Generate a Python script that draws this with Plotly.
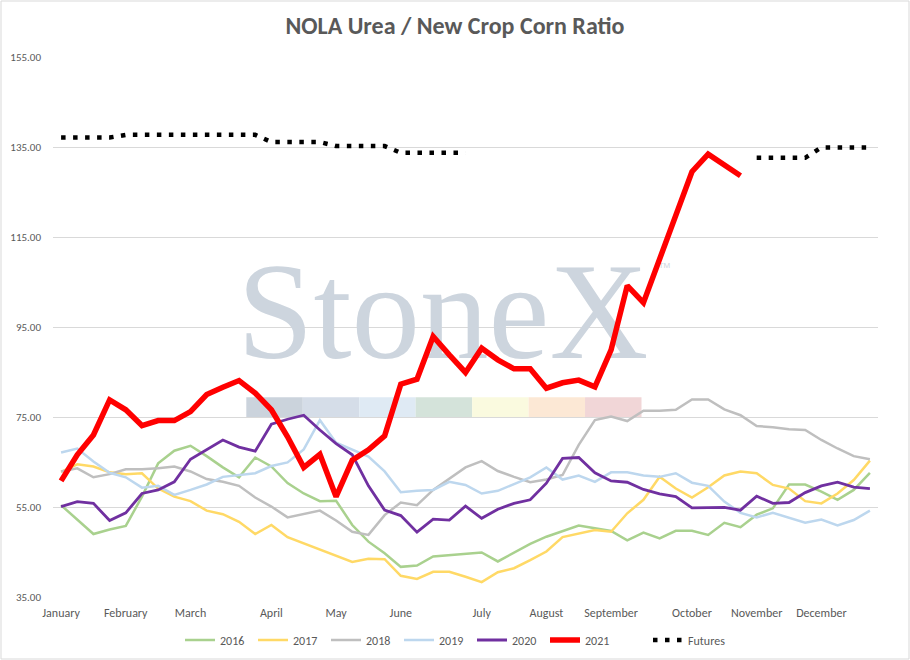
import plotly.graph_objects as go

# ---------------- data ----------------
weeks = list(range(51))
month_ticks = [0, 4, 8, 13, 17, 21, 26, 30, 34, 39, 43, 47]
month_labels = ["January", "February", "March", "April", "May", "June",
                "July", "August", "September", "October", "November", "December"]
y_ticks = [35, 55, 75, 95, 115, 135, 155]

y2016 = [55.4, 52.3, 49.0, 50.0, 50.8, 57.3, 64.7, 67.5, 68.6, 66.3, 63.8, 61.6, 66.0, 64.0, 60.3,
         58.0, 56.3, 56.4, 51.0, 47.3, 44.7, 41.7, 42.0, 44.0, 44.3, 44.5, 44.9, 42.9, 44.9, 46.8,
         48.4, 49.7, 50.9, 50.3, 49.7, 47.6, 49.3, 48.0, 49.7, 49.7, 48.8, 51.5, 50.5, 53.3, 54.7,
         60.0, 60.0, 58.4, 56.6, 58.8, 62.6]
y2017 = [62.8, 64.5, 64.0, 62.7, 62.3, 62.5, 59.1, 57.3, 56.3, 54.2, 53.4, 51.7, 49.0, 51.0, 48.3,
         46.9, 45.6, 44.2, 42.8, 43.5, 43.4, 39.7, 39.0, 40.6, 40.6, 39.5, 38.3, 40.5, 41.4, 43.2,
         45.1, 48.3, 49.1, 49.9, 49.5, 53.6, 56.6, 61.7, 59.1, 57.1, 59.4, 62.0, 62.9, 62.5, 59.9,
         59.1, 56.3, 55.8, 58.0, 61.0, 65.3]
y2018 = [62.9, 63.6, 61.6, 62.3, 63.4, 63.4, 63.6, 64.0, 62.9, 61.2, 60.6, 59.7, 57.1, 55.1, 52.7,
         53.4, 54.2, 52.0, 49.5, 48.8, 53.2, 56.0, 55.4, 58.8, 61.3, 63.8, 65.2, 63.0, 61.7, 60.5,
         61.1, 62.1, 68.8, 74.3, 75.1, 74.1, 76.4, 76.4, 76.6, 78.9, 78.9, 76.7, 75.4, 73.0, 72.7,
         72.3, 72.1, 69.9, 68.0, 66.3, 65.6]
y2019 = [67.1, 68.0, 65.1, 62.6, 61.6, 59.3, 59.7, 57.7, 58.8, 60.0, 61.7, 62.1, 62.5, 64.1, 64.9,
         67.8, 74.3, 69.3, 67.7, 66.2, 62.9, 58.3, 58.6, 58.8, 60.6, 59.9, 58.0, 58.6, 60.1, 61.6,
         63.8, 61.1, 62.0, 60.6, 62.7, 62.7, 62.0, 61.7, 62.5, 60.4, 59.7, 56.2, 53.7, 52.7, 53.7,
         52.6, 51.5, 52.2, 50.9, 52.1, 54.2]
y2020 = [55.1, 56.2, 55.8, 52.0, 53.7, 58.0, 58.8, 60.6, 65.6, 67.7, 69.9, 68.3, 67.4, 73.4, 74.5,
         75.4, 72.1, 69.1, 66.6, 59.7, 54.3, 53.1, 49.4, 52.3, 52.1, 55.2, 52.5, 54.5, 55.8, 56.6,
         60.3, 65.8, 66.0, 62.6, 60.8, 60.5, 58.9, 57.9, 57.3, 54.8, 54.9, 54.9, 54.3, 57.4, 55.8,
         56.0, 58.2, 59.7, 60.5, 59.4, 59.1]
y2021 = [60.8, 66.6, 71.0, 78.8, 76.6, 73.1, 74.2, 74.2, 76.2, 80.0, 81.6, 83.1, 80.3, 76.6, 70.6,
         63.8, 66.7, 57.3, 65.4, 67.7, 70.8, 82.3, 83.4, 92.9, 88.8, 84.9, 90.3, 87.7, 85.7, 85.7,
         81.4, 82.6, 83.2, 81.7, 89.9, 104.2, 100.4, 110.0, 119.9, 129.5, 133.4, 131.0, 128.6,
         None, None, None, None, None, None, None, None]
futures = [137.1, 137.1, 137.1, 137.1,
           137.7, 137.7, 137.7, 137.7, 137.7, 137.7, 137.7, 137.7, 137.7,
           136.1, 136.1, 136.1, 136.1,
           135.2, 135.2, 135.2, 135.2,
           133.7, 133.7, 133.7, 133.7, 133.7,
           None, None, None, None, None, None, None, None, None, None, None, None, None, None,
           None, None, None,
           132.6, 132.6, 132.6, 132.6,
           134.9, 134.9, 134.9, 134.9]

band_colors = ["#cbd3dc", "#d5dde8", "#dfeaf4", "#d4e3da", "#fafadf", "#fce8d5", "#f1d6d7"]

FONT = "Calibri, Carlito, Lato, sans-serif"
GREY = "#595959"

fig = go.Figure()

# watermark text drawn first, so it sits beneath the data lines
fig.add_trace(go.Scatter(
    x=[23.6], y=[95.8], mode="text", text=["StoneX"],
    textfont=dict(family="Liberation Serif, Times New Roman, serif", size=137, color="#cdd5de"),
    showlegend=False, hoverinfo="skip"))
fig.add_trace(go.Scatter(
    x=[37.3], y=[108.6], mode="text", text=["TM"],
    textfont=dict(family="Liberation Sans, sans-serif", size=8, color="#cdd5de"),
    showlegend=False, hoverinfo="skip"))

series = [
    ("2016", y2016, "#A9D18E", 2.5),
    ("2017", y2017, "#FFD966", 2.5),
    ("2018", y2018, "#BFBFBF", 2.5),
    ("2019", y2019, "#BDD7EE", 2.5),
    ("2020", y2020, "#7030A0", 2.8),
    ("2021", y2021, "#FF0000", 5.5),
]
for name, vals, col, w in series:
    fig.add_trace(go.Scatter(x=weeks, y=vals, mode="lines", name=name,
                             line=dict(color=col, width=w), connectgaps=False))

fig.add_trace(go.Scatter(x=weeks, y=futures, mode="lines", name="Futures",
                         line=dict(color="black", width=4.5, dash="4.5px,7.5px"),
                         connectgaps=False, legend="legend2"))

# coloured band of the watermark
shapes = []
x_start, seg = 11.45, 3.49
for i, c in enumerate(band_colors):
    shapes.append(dict(type="rect", xref="x", yref="y", layer="below",
                       x0=x_start + i * seg, x1=x_start + (i + 1) * seg,
                       y0=75, y1=79.4, fillcolor=c, line=dict(width=0)))
# chart border
shapes.append(dict(type="rect", xref="paper", yref="paper",
                   x0=-52 / 825, x1=856 / 825, y0=-62 / 540, y1=596 / 540,
                   line=dict(color="#d9d9d9", width=1), fillcolor="rgba(0,0,0,0)"))

legend_common = dict(orientation="h", xref="container", yref="container",
                     xanchor="left", y=1 - 640 / 660, yanchor="middle",
                     font=dict(family=FONT, size=12, color=GREY),
                     tracegroupgap=0, bgcolor="rgba(0,0,0,0)")

fig.update_layout(
    width=910, height=660,
    margin=dict(l=53, r=32, t=57, b=63, autoexpand=False),
    paper_bgcolor="white", plot_bgcolor="white",
    font=dict(family=FONT, color=GREY, size=12),
    title=dict(text="<b>NOLA Urea / New Crop Corn Ratio</b>", x=0.5, xanchor="center",
               xref="container", yref="container",
               y=1 - 26 / 660, yanchor="middle",
               font=dict(family=FONT, size=24, color=GREY)),
    showlegend=True,
    legend=dict(x=180 / 910, entrywidth=28, entrywidthmode="pixels", **legend_common),
    legend2=dict(x=648 / 910, **legend_common),
    shapes=shapes,
    xaxis=dict(range=[-0.5, 50.5], tickmode="array", tickvals=month_ticks,
               ticktext=month_labels, showgrid=False, zeroline=False, automargin=False,
               showline=False, ticks="", ticklabelstandoff=7,
               tickfont=dict(size=12, color=GREY)),
    yaxis=dict(range=[35, 155], tickmode="array", tickvals=y_ticks, tickformat=".2f",
               showgrid=True, gridcolor="#d9d9d9", gridwidth=1, zeroline=False,
               showline=False, ticks="", ticklabelstandoff=11, automargin=False,
               tickfont=dict(size=11, color=GREY)),
)

fig.write_html("out.html", config={"displayModeBar": False},
               post_script="document.body.style.margin='0';document.body.style.padding='0';")
